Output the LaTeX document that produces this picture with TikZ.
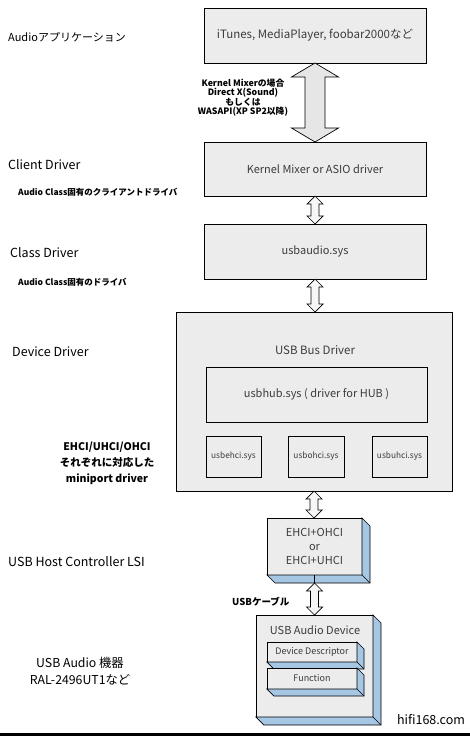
\documentclass[tikz,border=0pt]{standalone}
\usepackage{fontspec}
\setmainfont{Noto Sans CJK JP}
\usetikzlibrary{calc}
\definecolor{boxgray}{RGB}{236,236,236}
\definecolor{sideblue}{RGB}{166,199,228}
\definecolor{boxtext}{RGB}{60,60,60}
\definecolor{arrowgray}{RGB}{230,230,230}
\definecolor{arrowlight}{RGB}{246,246,246}
\newcommand\blockarrow[6]{% style, from, to, shaft half, head half, head len
  \draw[#1] let \p1=(#2), \p2=(#3) in
    (\x1,\y1) -- (\x1+#5pt,\y1-#6pt) -- (\x1+#4pt,\y1-#6pt) -- (\x1+#4pt,\y2+#6pt)
    -- (\x1+#5pt,\y2+#6pt) -- (\x1,\y2) -- (\x1-#5pt,\y2+#6pt) -- (\x1-#4pt,\y2+#6pt)
    -- (\x1-#4pt,\y1-#6pt) -- (\x1-#5pt,\y1-#6pt) -- cycle;}
\newcommand\extrude[2]{% node, depth
  \draw[sidebox] (#1.north east) -- ($(#1.north east)+(#2,#2)$) -- ($(#1.south east)+(#2,#2)$)
    -- ($(#1.south west)+(#2,#2)$) -- (#1.south west) -- (#1.south east) -- cycle;
  \draw[sidebox] (#1.south east) -- ($(#1.south east)+(#2,#2)$);}
\begin{document}
\begin{tikzpicture}[x=1pt,y=-1pt,
  layerbox/.style={draw=black, line width=0.7pt, fill=boxgray, text=boxtext,
    inner sep=0pt, outer sep=0pt, font=\fontsize{11}{13}\selectfont, align=center},
  minibox/.style={layerbox, font=\fontsize{8.3}{10}\selectfont},
  sidebox/.style={draw=black, line width=0.7pt, fill=sideblue},
  biglabel/.style={anchor=west, inner sep=0pt, font=\fontsize{12.5}{14}\selectfont},
  smalllabel/.style={inner sep=0pt, font=\fontsize{8.5}{9}\selectfont\bfseries},
  arrowbig/.style={draw=black, line width=0.7pt, fill=arrowgray},
  arrowsmall/.style={draw=black, line width=0.7pt, fill=arrowlight}]
\useasboundingbox (0,0) rectangle (470,736);
\fill[white] (0,0) rectangle (470,736);

% boxes
\node[layerbox, minimum width=222pt, minimum height=55pt, font=\fontsize{11.5}{13}\selectfont] (app) at (315,35.5) {iTunes, MediaPlayer, foobar2000など};
\node[layerbox, minimum width=222pt, minimum height=54pt] (client) at (315,169) {Kernel Mixer or ASIO driver};
\node[layerbox, minimum width=222pt, minimum height=55pt] (class) at (315,251.5) {usbaudio.sys};
\node[layerbox, minimum width=276pt, minimum height=179pt] (device) at (314,401.5) {};
\node[inner sep=0pt, text=boxtext, font=\fontsize{11.5}{13}\selectfont] (busdrv) at (315,350) {USB Bus Driver};
\node[layerbox, minimum width=221pt, minimum height=55pt] (hub) at (316.5,394.5) {usbhub.sys ( driver for HUB )};
\node[minibox, minimum width=55pt, minimum height=41pt] (ehci) at (233.5,456.5) {usbehci.sys};
\node[minibox, minimum width=56pt, minimum height=41pt] (ohci) at (316,456.5) {usbohci.sys};
\node[minibox, minimum width=55pt, minimum height=41pt] (uhci) at (399.5,456.5) {usbuhci.sys};

\node[layerbox, minimum width=95pt, minimum height=57pt, font=\fontsize{11}{14}\selectfont] (hc) at (314.5,546.5) {EHCI+OHCI\\or\\EHCI+UHCI};
\extrude{hc}{8}
\coordinate (hcback) at ($(hc.south)+(0,8)$);
\draw[line width=0.7pt] (hc.south) -- (hcback);

\node[layerbox, minimum width=117pt, minimum height=102pt] (dev) at (314.5,666) {};
\extrude{dev}{8}
\node[inner sep=0pt, text=boxtext, font=\fontsize{11}{13}\selectfont] (devtitle) at (315,630) {USB Audio Device};
\node[minibox, minimum width=90pt, minimum height=20pt, font=\fontsize{9}{10}\selectfont] (desc) at (312,652) {Device Descriptor};
\extrude{desc}{7}
\node[minibox, minimum width=90pt, minimum height=21pt, font=\fontsize{9}{10}\selectfont] (func) at (312,678.5) {Function};
\extrude{func}{7}

% block arrows
\blockarrow{arrowbig}{app.south}{client.north}{10}{23.5}{14}
\blockarrow{arrowsmall}{client.south}{class.north}{4}{8}{8}
\blockarrow{arrowsmall}{class.south}{device.north}{4}{8}{8}
\blockarrow{arrowsmall}{device.south}{hc.north}{4}{8}{8}
\blockarrow{arrowsmall}{hcback}{dev.north}{4}{8}{8}

% arrow labels
\node[smalllabel, align=center, font=\fontsize{8.8}{8.8}\selectfont\bfseries] (apilbl) at (243,98) {Kernel Mixerの場合\\Direct X(Sound)\\もしくは\\WASAPI(XP SP2以降)};
\node[smalllabel, anchor=west, font=\fontsize{9.5}{10}\selectfont\bfseries] (cable) at (232,602) {USBケーブル};

% left labels
\node[biglabel, font=\fontsize{11}{13}\selectfont] (l1) at (8,37) {Audioアプリケーション};
\node[biglabel] (l2) at (8,165) {Client Driver};
\node[smalllabel, anchor=west] (l2s) at (18,192) {Audio Class固有のクライアントドライバ};
\node[biglabel] (l3) at (10,253) {Class Driver};
\node[smalllabel, anchor=west] (l3s) at (18,282) {Audio Class固有のドライバ};
\node[biglabel] (l4) at (12,352) {Device Driver};
\node[smalllabel, align=center, font=\fontsize{10.5}{16}\selectfont\bfseries] (l4s) at (107,463) {EHCI/UHCI/OHCI\\それぞれに対応した\\miniport driver};
\node[biglabel] (l5) at (8,562) {USB Host Controller LSI};
\node[inner sep=0pt, align=center, font=\fontsize{12.3}{17}\selectfont] (l6) at (80,671.5) {USB Audio 機器\\RAL-2496UT1など};
\node[inner sep=0pt, font=\fontsize{12.5}{13}\selectfont] (site) at (431,720) {hifi168.com};
\fill[black] (0,733) rectangle (470,736);
\end{tikzpicture}
\end{document}
